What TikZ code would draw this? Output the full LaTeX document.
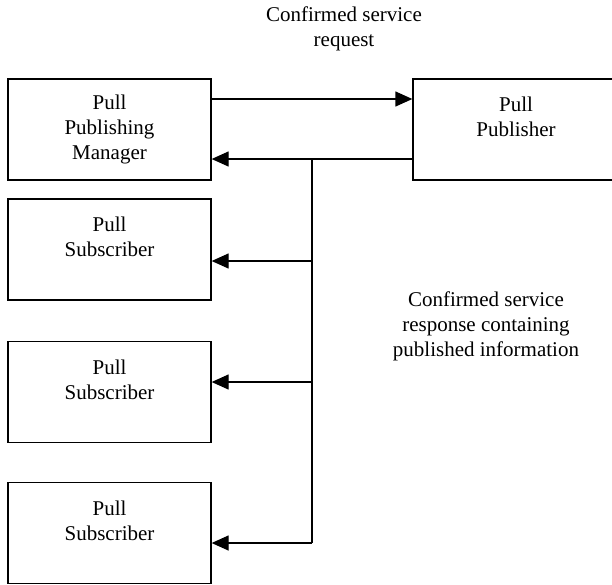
\documentclass[tikz,border=0pt]{standalone}
\usepackage{fontspec}
\setmainfont{Liberation Serif}
\usetikzlibrary{arrows.meta}
\begin{document}
\begin{tikzpicture}[x=1pt,y=-1pt,line width=1.3pt,
    box/.style={draw,rectangle,minimum width=203pt,minimum height=101pt,inner sep=2pt,align=center,font=\fontsize{21}{25}\selectfont},
    lbl/.style={align=center,inner sep=0pt,font=\fontsize{21}{25}\selectfont},
    arr/.style={-{Triangle[length=17pt,width=15pt]}}]
    \useasboundingbox (0,0) rectangle (612,584);
    \node[box] (ppm) at (109.5,129.5) {Pull\\Publishing\\Manager};
    \node[box,minimum width=206pt] (pub) at (516,129.5) {Pull\\Publisher\\~};
    \node[box] (sub1) at (109.5,249.5) {Pull\\Subscriber\\~};
    \node[box] (sub2) at (109.5,392) {Pull\\Subscriber\\~};
    \node[box] (sub3) at (109.5,533) {Pull\\Subscriber\\~};
    \node[lbl] (req) at (344,29) {Confirmed service\\request};
    \node[lbl] (resp) at (486,326) {Confirmed service\\response containing\\published information};
    % request and response
    \draw[arr] ([yshift=30.5pt]ppm.east) -- ([yshift=30.5pt]pub.west);
    \draw[arr] ([yshift=-29.5pt]pub.west) -- ([yshift=-29.5pt]ppm.east);
    \coordinate (bus) at (312,159);
    \coordinate (s1) at ([yshift=-11.5pt]sub1.east);
    \coordinate (s2) at ([yshift=10pt]sub2.east);
    \coordinate (s3) at ([yshift=-10pt]sub3.east);
    \draw (bus) -- (bus |- s3);
    \draw[arr] (s1 -| bus) -- (s1);
    \draw[arr] (s2 -| bus) -- (s2);
    \draw[arr] (s3 -| bus) -- (s3);
\end{tikzpicture}
\end{document}
